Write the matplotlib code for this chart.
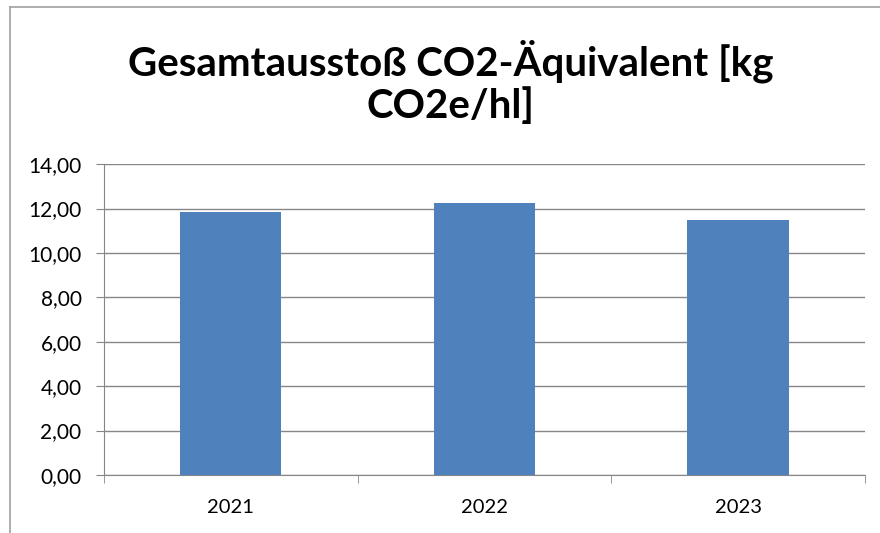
import matplotlib.pyplot as plt
from matplotlib.ticker import FuncFormatter
from matplotlib.lines import Line2D

years = ['2021', '2022', '2023']
values = [11.83, 12.24, 11.49]
title = 'Gesamtausstoß CO2-Äquivalent [kg\nCO2e/hl]'

plt.rcParams['font.family'] = ['Lato', 'DejaVu Sans']

fig = plt.figure(figsize=(8.8, 5.33), dpi=100)
ax = fig.add_axes([0.118, 0.109, 0.865, 0.583])

x = list(range(len(years)))
ax.bar(x, values, width=0.4, color='#4F81BD', zorder=3)

ax.set_xlim(-0.5, len(years) - 0.5)
ax.set_ylim(0, 14)
ax.set_yticks([0, 2, 4, 6, 8, 10, 12, 14])
ax.yaxis.set_major_formatter(FuncFormatter(lambda v, p: f'{v:.2f}'.replace('.', ',')))
ax.yaxis.grid(True, color='#868686', linewidth=1, zorder=0)

# categories labelled at centres, tick marks at boundaries
ax.set_xticks(x)
ax.set_xticklabels(years)
ax.tick_params(axis='x', length=0, labelsize=14.5, pad=17)
ax.set_xticks([i - 0.5 for i in range(len(years) + 1)], minor=True)
ax.tick_params(axis='x', which='minor', length=6, color='#868686')
ax.tick_params(axis='y', length=6, color='#868686', labelsize=15, pad=10)

for side in ['top', 'right']:
    ax.spines[side].set_visible(False)
for side in ['left', 'bottom']:
    ax.spines[side].set_color('#868686')

fig.text(0.512, 0.846, title, ha='center', va='center', fontsize=29,
         fontweight='bold', linespacing=1.12)

# chart frame
fig.add_artist(Line2D([0.011, 0.011], [0, 0.987], color='#a0a0a0', linewidth=1.2))
fig.add_artist(Line2D([0.011, 1.0], [0.987, 0.987], color='#a0a0a0', linewidth=1.2))

fig.savefig('out.png', dpi=100)
